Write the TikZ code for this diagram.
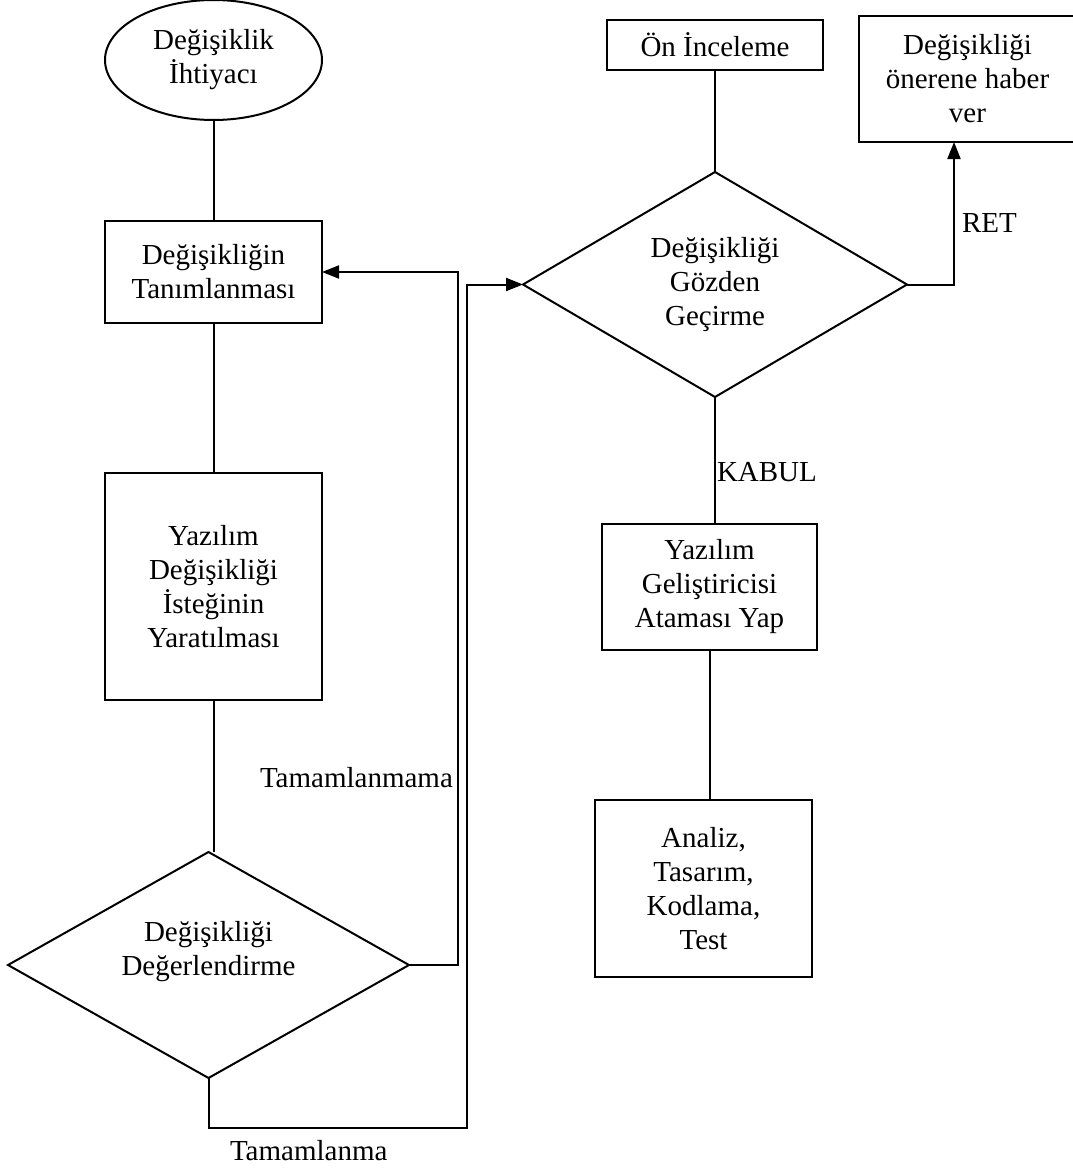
\documentclass[tikz,border=0pt]{standalone}
\usepackage{fontspec}
\setmainfont{Liberation Serif}
\usetikzlibrary{shapes.geometric,arrows.meta}
\begin{document}
\begin{tikzpicture}[x=1pt,y=-1pt,
  every node/.style={font=\fontsize{29}{34}\selectfont, align=center, inner sep=0pt, outer sep=0pt},
  box/.style={draw, line width=2pt, rectangle},
  decision/.style={draw, line width=2pt, diamond},
  terminal/.style={draw, line width=2pt, ellipse},
  conn/.style={line width=2pt},
  flow/.style={conn, -{Triangle[length=17pt,width=13pt]}},
  tag/.style={anchor=base west}]
\useasboundingbox (0,0) rectangle (1073,1170);
\fill[white] (0,0) rectangle (1073,1170);

% left column
\node[terminal, minimum width=217pt, minimum height=120pt] (need) at (213.5,60) {Değişiklik\\İhtiyacı};
\node[box, minimum width=217pt, minimum height=102pt] (def) at (213.5,272) {Değişikliğin\\Tanımlanması};
\node[box, minimum width=217pt, minimum height=227pt] (req) at (213.5,586.5) {Yazılım\\Değişikliği\\İsteğinin\\Yaratılması};
\node[decision, minimum width=401pt, minimum height=226pt] (eval) at (208.5,965) {};
\node (evaltxt) at (208.5,952) {Değişikliği\\Değerlendirme};

% right column
\node[box, minimum width=216pt, minimum height=50pt] (pre) at (715,45) {Ön İnceleme};
\node[decision, minimum width=384pt, minimum height=225pt] (review) at (715,284.5) {Değişikliği\\Gözden\\Geçirme};
\node[box, minimum width=217pt, minimum height=126pt] (notify) at (967.5,79) {Değişikliği\\önerene haber\\ver};
\node[box, minimum width=215pt, minimum height=126pt] (assign) at (709.5,587) {Yazılım\\Geliştiricisi\\Ataması Yap};
\node[box, minimum width=217pt, minimum height=177pt] (work) at (703.5,888.5) {Analiz,\\Tasarım,\\Kodlama,\\Test};

% routing points
\coordinate (backx) at (458,0);
\coordinate (fwd) at (467,1128);
\coordinate (retx) at (954,0);

% connectors
\draw[conn] (need) -- (def);
\draw[conn] (def) -- (req);
\draw[conn] (req.south) -- (req.south |- eval.north);
\draw[flow] (eval.east) -- (eval.east -| backx) -- (def.east -| backx) -- (def.east);
\draw[flow] (eval.south) |- (fwd) |- (review.west);
\draw[conn] (pre) -- (review);
\draw[flow] (review.east) -- (review.east -| retx) -- (notify.south -| retx);
\draw[conn] (review.south) -- (review.south |- assign.north);
\draw[conn] (assign.south) -- (assign.south |- work.north);

% branch labels
\node[tag] (lblno) at (260,787) {Tamamlanmama};
\node[tag] (lblyes) at (230,1160) {Tamamlanma};
\node[tag] (lblret) at (962,232) {RET};
\node[tag] (lblok) at (717,481) {KABUL};
\end{tikzpicture}
\end{document}
